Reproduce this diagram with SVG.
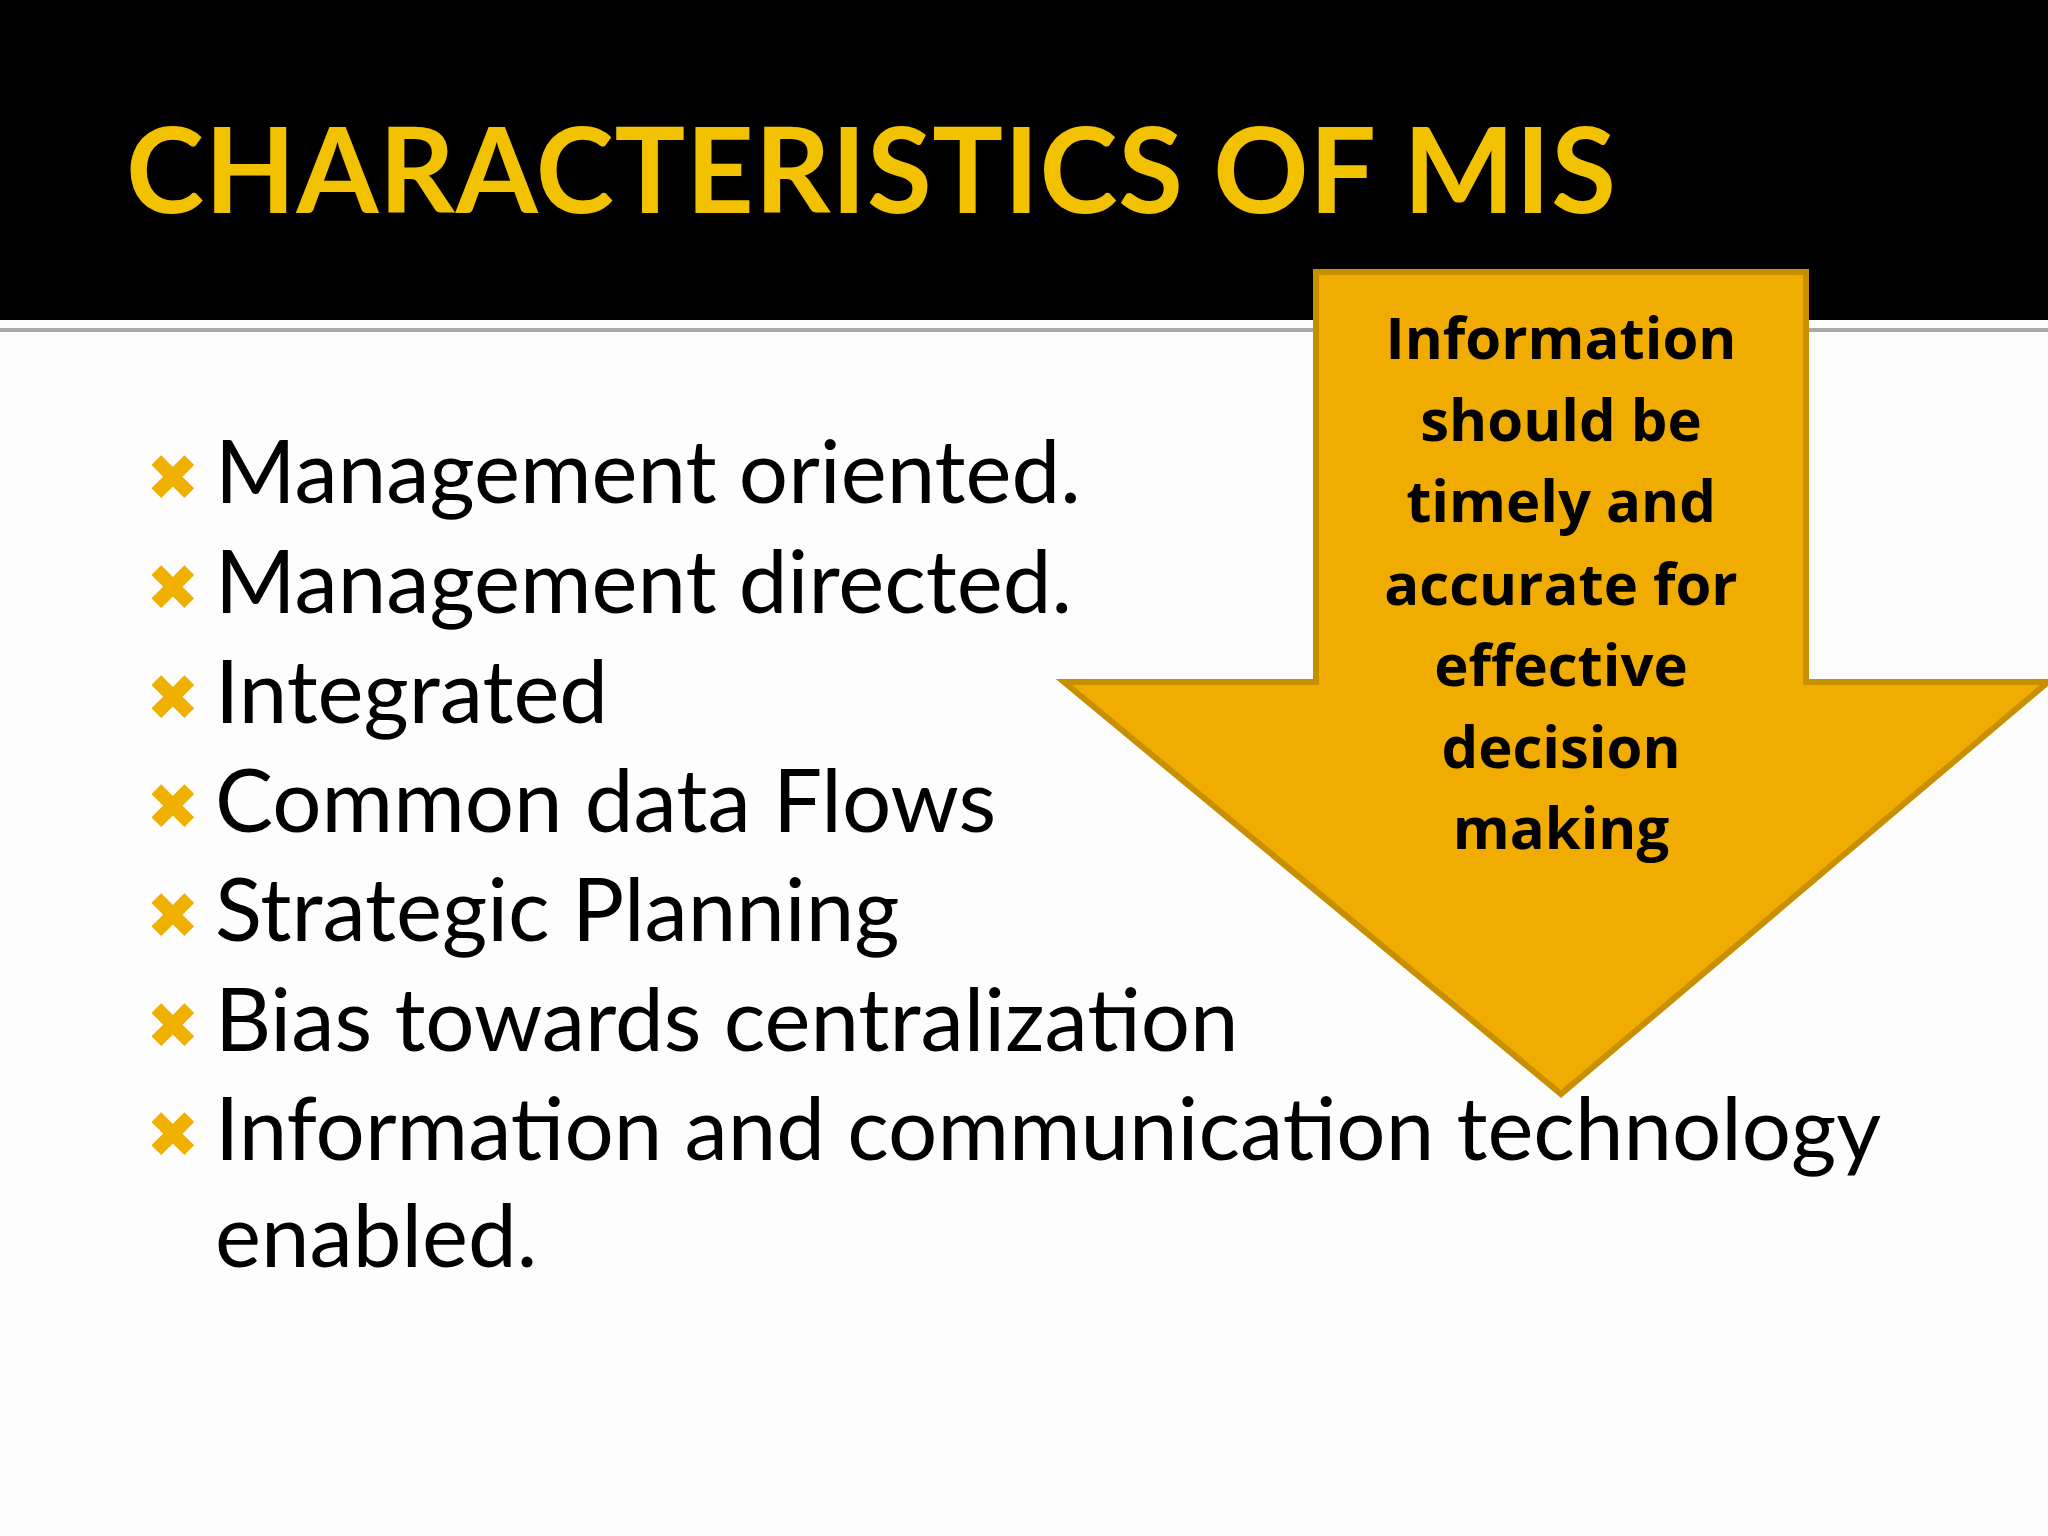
<svg xmlns="http://www.w3.org/2000/svg" width="2048" height="1536" viewBox="0 0 2048 1536">
<style>
.b{font-family:Lato,"Open Sans",sans-serif;font-size:87px;fill:#000}
.x{font-family:"DejaVu Sans",sans-serif;font-size:64px;fill:#f0b000;font-weight:bold}
.a{font-family:"Open Sans",Lato,sans-serif;font-weight:bold;font-size:58px;fill:#000;text-anchor:middle}
</style>
<rect width="2048" height="1536" fill="#fdfdfd"/>
<rect width="2048" height="320" fill="#000"/>
<rect y="328" width="2048" height="4" fill="#aaa"/>
<text x="126" y="213" font-family="Lato,'Open Sans',sans-serif" font-weight="bold" font-size="118" fill="#f2c200" textLength="1490">CHARACTERISTICS OF MIS</text>
<g id="arrow">
<polygon points="1316,272 1806,272 1806,682 2048,682 1561,1094 1064,682 1316,682" fill="#f0ac00" stroke="#c89000" stroke-width="6"/>
<text class="a"><tspan x="1561" y="359">Information</tspan><tspan x="1561" y="441">should be</tspan><tspan x="1561" y="522">timely and</tspan><tspan x="1561" y="605">accurate for</tspan><tspan x="1561" y="686">effective</tspan><tspan x="1561" y="768">decision</tspan><tspan x="1561" y="849">making</tspan></text>
</g>
<g id="bullets">
<text class="x" x="146" y="500">✖</text><text class="b" x="215" y="503">Management oriented.</text>
<text class="x" x="146" y="610">✖</text><text class="b" x="215" y="613">Management directed.</text>
<text class="x" x="146" y="720">✖</text><text class="b" x="215" y="723">Integrated</text>
<text class="x" x="146" y="829">✖</text><text class="b" x="215" y="832">Common data Flows</text>
<text class="x" x="146" y="938">✖</text><text class="b" x="215" y="941">Strategic Planning</text>
<text class="x" x="146" y="1048">✖</text><text class="b" x="215" y="1051">Bias towards centralization</text>
<text class="x" x="146" y="1157">✖</text><text class="b" x="215" y="1160">Information and communication technology</text>
<text class="b" x="215" y="1267">enabled.</text>
</g>
</svg>
